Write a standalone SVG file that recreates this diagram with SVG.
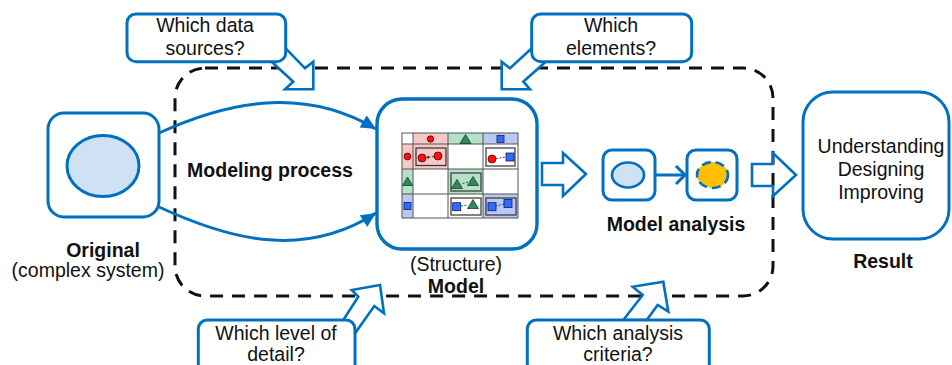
<svg xmlns="http://www.w3.org/2000/svg" width="952" height="365" viewBox="0 0 952 365">
<defs>
<style>
.t{font-family:"Liberation Sans",Arial,sans-serif;font-size:19.5px;fill:#111;text-anchor:middle}
.b{font-weight:bold}
.bx{fill:#fff;stroke:#0070C0;stroke-width:3}
.co{fill:#fff;stroke:#0070C0;stroke-width:2.6;stroke-linejoin:miter}
.ln{fill:none;stroke:#0070C0;stroke-width:3}
.grid{fill:none;stroke:#555;stroke-width:1}
.ib{stroke:#333;stroke-width:1.2}
.rc{fill:#ff1010;stroke:#5a0000;stroke-width:0.8}
.gt{fill:#2e8b57;stroke:#153d26;stroke-width:0.8}
.bs{fill:#2f6bff;stroke:#0d1f5c;stroke-width:0.8}
.lk{stroke:#444;stroke-width:1;stroke-dasharray:2 1.5;fill:none}
</style>
<marker id="ah" markerUnits="userSpaceOnUse" markerWidth="16" markerHeight="14" refX="15" refY="7" orient="auto">
<path d="M0,0 L15,7 L0,14 z" fill="#0070C0"/>
</marker>
</defs>
<rect width="952" height="365" fill="#fff"/>

<g id="frame">
<rect x="175" y="68" width="598" height="228" rx="30" ry="30" fill="none" stroke="#111" stroke-width="3" stroke-dasharray="13 9"/>
</g>

<g id="connectors">
<path class="ln" d="M159,133 C222,104 300,84 376,129" marker-end="url(#ah)"/>
<path class="ln" d="M159,207 C222,236 300,262 376,213" marker-end="url(#ah)"/>
<polygon class="co" points="542,163 563,163 563,153 586,174 563,196 563,185 542,185"/>
<line x1="655" y1="175" x2="684" y2="175" stroke="#0070C0" stroke-width="3"/>
<polyline points="676,166 685,175 676,184" fill="none" stroke="#0070C0" stroke-width="3"/>
<polygon class="co" style="fill:none" points="752,164 773,164 773,153 796,175 773,196 773,186 752,186"/>
</g>

<g id="original">
<rect class="bx" x="48" y="113" width="111" height="104" rx="16"/>
<ellipse cx="103" cy="166" rx="36" ry="30.5" fill="#cfe2f3" stroke="#0070C0" stroke-width="3"/>
<text class="t b" x="103" y="257">Original</text>
<text class="t" x="88" y="277">(complex system)</text>
</g>

<g id="modeling-process">
<text class="t b" x="270" y="177">Modeling process</text>
</g>

<g id="model">
<rect class="bx" x="377" y="99" width="160" height="150" rx="25" style="stroke-width:3.4"/>
<rect x="413" y="133" width="35" height="11" fill="#f6c8c8"/>
<rect x="448" y="133" width="35" height="11" fill="#b5e0c9"/>
<rect x="483" y="133" width="35" height="11" fill="#b9c8f5"/>
<rect x="402" y="144" width="11" height="25" fill="#f6c8c8"/>
<rect x="402" y="169" width="11" height="25" fill="#b5e0c9"/>
<rect x="402" y="194" width="11" height="24" fill="#b9c8f5"/>
<rect x="413" y="144" width="35" height="25" fill="#f6c8c8"/>
<rect x="448" y="169" width="35" height="25" fill="#b5e0c9"/>
<rect x="483" y="194" width="35" height="24" fill="#b9c8f5"/>
<rect class="grid" x="402" y="133" width="116" height="85"/>
<path class="grid" d="M413,133V218M448,133V218M483,133V218M402,144H518M402,169H518M402,194H518"/>
<circle class="rc" cx="430.5" cy="139" r="3.2"/>
<polygon class="gt" points="460,143.5 465.5,134.5 471,143.5"/>
<rect class="bs" x="497" y="135.5" width="7" height="7"/>
<circle class="rc" cx="407.5" cy="156.5" r="3.4"/>
<polygon class="gt" points="402.5,185.5 407.5,177 412.5,185.5"/>
<rect class="bs" x="404" y="202.5" width="7" height="7"/>
<rect class="ib" x="416" y="148" width="30" height="17.5" fill="none"/>
<path class="lk" d="M434,156.5 L427,157.5"/>
<path d="M426,157.6 l3,-2 l0,3.5 z" fill="#333"/>
<circle class="rc" cx="422" cy="158" r="4"/>
<circle class="rc" cx="438" cy="156" r="4"/>
<rect class="ib" x="486" y="148" width="29" height="18" fill="#fff"/>
<path class="lk" d="M496,158.5 L506,157" stroke="#999"/>
<circle class="rc" cx="492" cy="159" r="4"/>
<rect class="bs" x="506" y="153" width="8" height="8"/>
<rect class="ib" x="451" y="173" width="30" height="18" fill="none"/>
<path class="lk" d="M468,182 L461,184"/>
<polygon class="gt" points="451.5,188.5 457,179.5 462.5,188.5"/>
<polygon class="gt" points="467.5,185.5 473,176.5 478.5,185.5"/>
<rect class="ib" x="451" y="198" width="30" height="17" fill="#fff"/>
<path class="lk" d="M461,206 L468,205" stroke="#999"/>
<rect class="bs" x="452.7" y="202.7" width="8" height="8"/>
<polygon class="gt" points="467.5,208.5 473,199.5 478.5,208.5"/>
<rect class="ib" x="486" y="198" width="30" height="17" fill="none"/>
<path class="lk" d="M504,204 L496,206"/>
<rect class="bs" x="488" y="202.7" width="8" height="8"/>
<rect class="bs" x="504" y="199.5" width="8" height="8"/>
<text class="t" x="456" y="271">(Structure)</text>
<text class="t b" x="456" y="293">Model</text>
</g>

<g id="analysis-original">
<rect class="bx" x="603" y="150" width="52" height="50" rx="9"/>
<ellipse cx="628" cy="175" rx="16" ry="12.5" fill="#cfe2f3" stroke="#0070C0" stroke-width="2.6"/>
</g>
<g id="analysis-result">
<rect class="bx" x="687" y="150" width="50" height="50" rx="9"/>
<ellipse cx="712.5" cy="175" rx="15.5" ry="13" fill="#ffc000" stroke="#0070C0" stroke-width="2.6" stroke-dasharray="9 5"/>
</g>
<g id="model-analysis-label">
<text class="t b" x="676" y="231">Model analysis</text>
</g>

<g id="result">
<rect class="bx" x="803" y="92" width="146" height="147" rx="30"/>
<text class="t" x="881" y="153">Understanding</text>
<text class="t" x="881" y="176">Designing</text>
<text class="t" x="881" y="199">Improving</text>
<text class="t b" x="883" y="268">Result</text>
</g>

<g id="callout-data">
<polygon class="co" points="271.7,61.7 293.3,81.7 285,89.3 313.3,89.3 313.3,61.7 305,68.3 285.7,48.3"/>
<rect class="bx" x="127" y="14" width="158.7" height="47.7" rx="9"/>
<text class="t" x="205" y="31.5">Which data</text>
<text class="t" x="205" y="55">sources?</text>
</g>

<g id="callout-elements">
<polygon class="co" points="545.7,61.7 523.3,81.7 530,89.3 501.7,89.3 501.7,61.7 510,68.3 531.7,48.3"/>
<rect class="bx" x="531.7" y="14" width="160" height="47.7" rx="9"/>
<text class="t" x="611" y="31.5">Which</text>
<text class="t" x="611" y="55">elements?</text>
</g>

<g id="callout-detail">
<polygon class="co" points="343.3,320 358.3,296.7 351.7,290 380,285 384,313.3 374.3,306 355,333.3"/>
<rect class="bx" x="198.3" y="320" width="156.7" height="70" rx="9"/>
<text class="t" x="276" y="340">Which level of</text>
<text class="t" x="276" y="361">detail?</text>
</g>

<g id="callout-criteria">
<polygon class="co" points="623.3,320 642.7,295 632.7,286.7 663.3,281.7 668.3,311.7 657.7,305 646.7,320"/>
<rect class="bx" x="527.3" y="320" width="182" height="70" rx="9"/>
<text class="t" x="618" y="340">Which analysis</text>
<text class="t" x="618" y="361">criteria?</text>
</g>
</svg>
